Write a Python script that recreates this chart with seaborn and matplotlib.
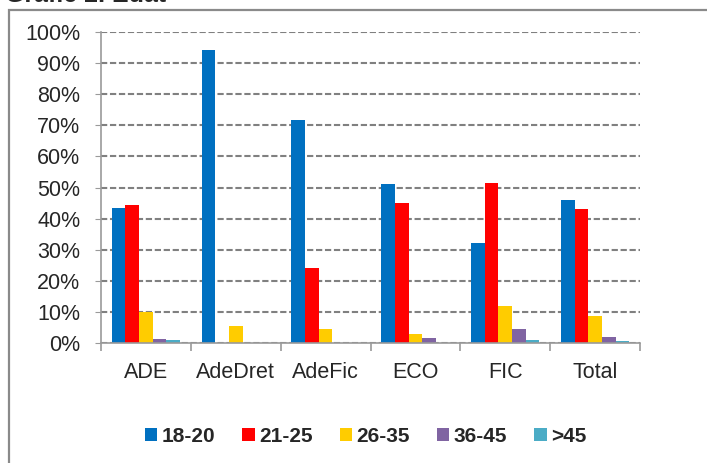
import matplotlib as mpl
import matplotlib.pyplot as plt
import matplotlib.patches as mpatches
import pandas as pd
import seaborn as sns
from matplotlib.ticker import PercentFormatter, FixedLocator

# dades llegides del grafic (percentatges)
estudis = ["ADE", "AdeDret", "AdeFic", "ECO", "FIC", "Total"]
edats = ["18-20", "21-25", "26-35", "36-45", ">45"]
v_18_20 = [43.5, 94.2, 71.7, 51.2, 32.1, 46.0]
v_21_25 = [44.4, 0.0, 24.0, 45.1, 51.3, 43.0]
v_26_35 = [9.9, 5.6, 4.5, 2.8, 12.0, 8.7]
v_36_45 = [1.3, 0.0, 0.0, 1.5, 4.4, 1.9]
v_mes_45 = [0.9, 0.0, 0.0, 0.0, 1.0, 0.6]
colors = ["#0070C0", "#FF0000", "#FFCC00", "#8064A2", "#4BACC6"]

series = [v_18_20, v_21_25, v_26_35, v_36_45, v_mes_45]
rows = []
for edat, vals in zip(edats, series):
    for est, v in zip(estudis, vals):
        rows.append({"Estudis": est, "Edat": edat, "Pct": v / 100})
df = pd.DataFrame(rows)

sns.set_style("white")
plt.rcParams['font.family'] = ['Liberation Sans', 'DejaVu Sans']

fig = plt.figure(figsize=(7.07, 4.63), dpi=100)
ax = fig.add_axes([101 / 707, 1 - 343 / 463, 539 / 707, 311 / 463])

sns.barplot(data=df, x="Estudis", y="Pct", hue="Edat", hue_order=edats,
            palette=colors, width=0.76, gap=0, saturation=1, errorbar=None,
            linewidth=0, ax=ax)

ax.set_ylim(0, 1)
ax.set_xlim(-0.5, 5.5)
ax.yaxis.set_major_locator(FixedLocator([i / 10 for i in range(11)]))
ax.yaxis.set_major_formatter(PercentFormatter(1.0, decimals=0))
ax.grid(axis="y", color="#808080", linestyle=(0, (3, 1.3)), linewidth=1.5)
ax.set_axisbelow(True)
ax.set_xlabel("")
ax.set_ylabel("")

for s in ["top", "right"]:
    ax.spines[s].set_visible(False)
for s in ["left", "bottom"]:
    ax.spines[s].set_color("#9a9a9a")
    ax.spines[s].set_linewidth(1.2)

ax.tick_params(axis="y", which="major", length=4, color="#9a9a9a", pad=11,
               labelsize=15.5, left=True)
ax.tick_params(axis="x", which="major", length=0, pad=14, labelsize=15.5)
ax.xaxis.set_minor_locator(FixedLocator([i - 0.5 for i in range(7)]))
ax.tick_params(axis="x", which="minor", length=6, color="#9a9a9a", width=1.2,
               bottom=True)

leg = ax.legend(loc="center", bbox_to_anchor=(0.517, 0.058),
                bbox_transform=fig.transFigure, ncol=5, frameon=False,
                handlelength=0.6, handleheight=0.6, handletextpad=0.2,
                columnspacing=1.3, prop={"weight": "bold", "size": 15})

# marc del grafic
fig.patches.append(mpatches.Rectangle((9 / 707, -0.2), 1.0, 1.2 - 10 / 463,
                                      transform=fig.transFigure, fill=False,
                                      edgecolor="#8a8a8a", linewidth=1.6))
# titol tallat a la part superior, com a l'original
fig.text(5 / 707, 1 - 2 / 463, "Gràfic 2. Edat", fontsize=18,
         fontweight="bold", va="baseline", ha="left")

fig.savefig("out.png", dpi=100)
